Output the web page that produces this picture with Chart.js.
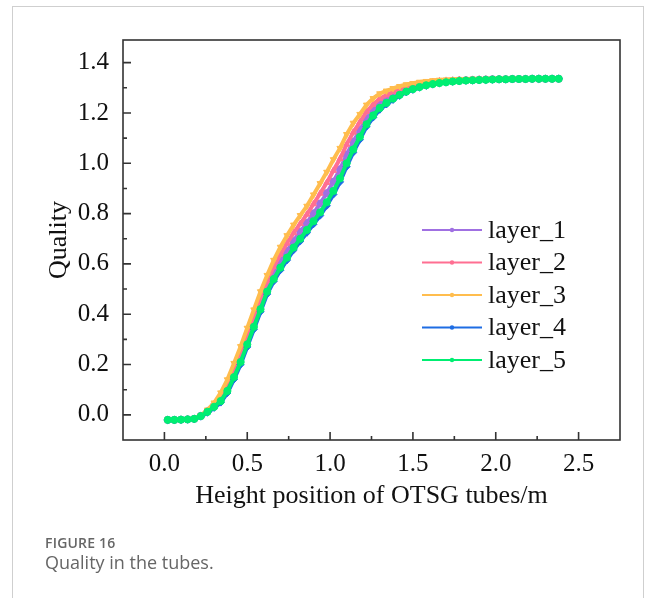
<!DOCTYPE html>
<html>
<head>
<meta charset="utf-8">
<script src="https://cdn.jsdelivr.net/npm/chart.js@4"></script>
<style>
  html, body { margin: 0; padding: 0; background: #fff; }
  body { width: 656px; height: 598px; position: relative; overflow: hidden; }
  #card { position: absolute; left: 12px; top: 6px; width: 632px; height: 620px; border: 1px solid #cfcfcf; box-sizing: border-box; }
  #chart { position: absolute; left: 0; top: 0; }
  .cap { position: absolute; left: 45px; font-family: "Open Sans", "Noto Sans", sans-serif; color: #666; }
  #figno { top: 533px; font-size: 14px; font-weight: 600; letter-spacing: 0.2px; }
  #figtxt { top: 550px; font-size: 18px; }
</style>
</head>
<body>
<div id="card"></div>
<canvas id="chart" width="656" height="598"></canvas>
<div class="cap" id="figno">FIGURE 16</div>
<div class="cap" id="figtxt">Quality in the tubes.</div>
<script>
// height positions (m), shared by all layers
const heights = [0.02, 0.06, 0.10, 0.14, 0.18, 0.22, 0.26, 0.30, 0.34, 0.38,
  0.42, 0.46, 0.50, 0.54, 0.58, 0.62, 0.66, 0.70, 0.74, 0.78,
  0.82, 0.86, 0.90, 0.94, 0.98, 1.02, 1.06, 1.10, 1.14, 1.18,
  1.22, 1.26, 1.30, 1.34, 1.38, 1.42, 1.46, 1.50, 1.54, 1.58,
  1.62, 1.66, 1.70, 1.74, 1.78, 1.82, 1.86, 1.90, 1.94, 1.98,
  2.02, 2.06, 2.10, 2.14, 2.18, 2.22, 2.26, 2.30, 2.34, 2.38];

const layer1 = [-0.020, -0.020, -0.019, -0.018, -0.016, -0.004, 0.014, 0.037, 0.065, 0.108,
  0.166, 0.229, 0.300, 0.370, 0.441, 0.510, 0.562, 0.610, 0.651, 0.692,
  0.728, 0.763, 0.801, 0.840, 0.881, 0.927, 0.976, 1.034, 1.086, 1.132,
  1.178, 1.210, 1.237, 1.254, 1.269, 1.282, 1.293, 1.302, 1.309, 1.315,
  1.319, 1.323, 1.325, 1.327, 1.329, 1.330, 1.331, 1.332, 1.333, 1.334,
  1.334, 1.334, 1.335, 1.335, 1.335, 1.336, 1.336, 1.336, 1.336, 1.336];

const layer2 = [-0.020, -0.020, -0.019, -0.018, -0.016, -0.004, 0.017, 0.042, 0.076, 0.124,
  0.186, 0.250, 0.322, 0.394, 0.465, 0.532, 0.589, 0.638, 0.682, 0.723,
  0.760, 0.797, 0.838, 0.880, 0.923, 0.971, 1.018, 1.075, 1.123, 1.164,
  1.205, 1.234, 1.257, 1.271, 1.284, 1.294, 1.303, 1.310, 1.316, 1.320,
  1.324, 1.327, 1.329, 1.330, 1.332, 1.332, 1.333, 1.334, 1.334, 1.335,
  1.335, 1.335, 1.336, 1.336, 1.336, 1.336, 1.336, 1.336, 1.336, 1.336];

const layer3 = [-0.020, -0.020, -0.019, -0.018, -0.016, -0.003, 0.020, 0.048, 0.088, 0.140,
  0.205, 0.272, 0.345, 0.418, 0.490, 0.555, 0.615, 0.667, 0.713, 0.755,
  0.793, 0.830, 0.875, 0.920, 0.965, 1.015, 1.060, 1.115, 1.160, 1.195,
  1.232, 1.258, 1.277, 1.288, 1.298, 1.306, 1.313, 1.318, 1.323, 1.326,
  1.329, 1.331, 1.332, 1.333, 1.334, 1.334, 1.335, 1.335, 1.335, 1.336,
  1.336, 1.336, 1.336, 1.336, 1.336, 1.336, 1.336, 1.336, 1.336, 1.336];

const layer4 = [-0.021, -0.021, -0.020, -0.019, -0.017, -0.007, 0.009, 0.028, 0.049, 0.087,
  0.141, 0.200, 0.270, 0.340, 0.410, 0.480, 0.531, 0.575, 0.615, 0.655,
  0.690, 0.724, 0.758, 0.792, 0.831, 0.876, 0.926, 0.987, 1.043, 1.094,
  1.146, 1.182, 1.213, 1.234, 1.252, 1.268, 1.282, 1.292, 1.301, 1.308,
  1.313, 1.318, 1.321, 1.324, 1.326, 1.328, 1.329, 1.330, 1.331, 1.332,
  1.333, 1.333, 1.334, 1.334, 1.335, 1.335, 1.335, 1.335, 1.336, 1.336];

const layer5 = [-0.020, -0.020, -0.019, -0.018, -0.016, -0.005, 0.012, 0.032, 0.055, 0.095,
  0.150, 0.210, 0.280, 0.350, 0.420, 0.490, 0.540, 0.585, 0.625, 0.665,
  0.700, 0.735, 0.770, 0.805, 0.845, 0.890, 0.940, 1.000, 1.055, 1.105,
  1.155, 1.190, 1.220, 1.240, 1.257, 1.272, 1.285, 1.295, 1.303, 1.310,
  1.315, 1.319, 1.322, 1.325, 1.327, 1.329, 1.330, 1.331, 1.332, 1.333,
  1.334, 1.334, 1.335, 1.335, 1.335, 1.336, 1.336, 1.336, 1.336, 1.336];

const layerNames = ['layer_1', 'layer_2', 'layer_3', 'layer_4', 'layer_5'];
const layerColors = ['#a070e2', '#ff6f92', '#ffbd4e', '#1e6de3', '#00ee72'];
const layerMarkers = ['circle', 'triangle', 'triangle', 'rectRot', 'circle'];

const xTicks = [0.0, 0.5, 1.0, 1.5, 2.0, 2.5];
const yTicks = [0.0, 0.2, 0.4, 0.6, 0.8, 1.0, 1.2, 1.4];
const xMinor = [0.25, 0.75, 1.25, 1.75, 2.25];
const yMinor = [0.1, 0.3, 0.5, 0.7, 0.9, 1.1, 1.3];

const layers = [layer1, layer2, layer3, layer4, layer5];
const serif = '"Liberation Serif", "Times New Roman", serif';

// frame + ticks pointing into the plot, like the origin-style figure
const frameTicks = {
    id: 'frameTicks',
    afterDraw(chart) {
        const { ctx, chartArea: a, scales } = chart;
        ctx.save();
        ctx.strokeStyle = '#333';
        ctx.lineWidth = 1.6;
        ctx.strokeRect(a.left, a.top, a.right - a.left, a.bottom - a.top);
        ctx.beginPath();
        const tick = (vals, len) => {
            vals.forEach(v => {
                const px = scales.x.getPixelForValue(v);
                ctx.moveTo(px, a.bottom);
                ctx.lineTo(px, a.bottom - len);
            });
        };
        const ytick = (vals, len) => {
            vals.forEach(v => {
                const py = scales.y.getPixelForValue(v);
                ctx.moveTo(a.left, py);
                ctx.lineTo(a.left + len, py);
            });
        };
        tick(xTicks, 8); tick(xMinor, 4);
        ytick(yTicks, 8); ytick(yMinor, 4);
        ctx.stroke();
        ctx.restore();
    }
};

// legend sits inside the plot, right of the curves
const insideLegend = {
    id: 'insideLegend',
    afterDraw(chart) {
        const ctx = chart.ctx;
        ctx.save();
        ctx.font = '26px ' + serif;
        ctx.textBaseline = 'middle';
        chart.data.datasets.forEach((ds, i) => {
            const y = 230 + i * 32.5;
            ctx.strokeStyle = ds.borderColor;
            ctx.lineWidth = 2;
            ctx.beginPath();
            ctx.moveTo(422, y);
            ctx.lineTo(482, y);
            ctx.stroke();
            ctx.fillStyle = ds.borderColor;
            ctx.beginPath();
            ctx.arc(452, y, 2.2, 0, Math.PI * 2);
            ctx.fill();
            ctx.fillStyle = '#111';
            ctx.fillText(ds.label, 488, y + 1);
        });
        ctx.restore();
    }
};

const datasets = layers.map((vals, i) => ({
    label: layerNames[i],
    data: heights.map((h, j) => ({ x: h, y: vals[j] })),
    borderColor: layerColors[i],
    backgroundColor: layerColors[i],
    borderWidth: 4,
    pointStyle: layerMarkers[i],
    rotation: i === 2 ? 180 : 0,
    pointRadius: 3.6,
    pointBorderWidth: 1,
    tension: 0,
    order: 5 - i
}));

new Chart(document.getElementById('chart').getContext('2d'), {
    type: 'scatter',
    data: { datasets: datasets },
    options: {
        responsive: false,
        animation: false,
        devicePixelRatio: 1,
        showLine: true,
        layout: { padding: { left: 40, top: 40, right: 36, bottom: 82 } },
        plugins: { legend: { display: false }, tooltip: { enabled: false } },
        scales: {
            x: {
                type: 'linear',
                min: -0.25,
                max: 2.75,
                afterFit: s => { s.height = 76; },
                afterBuildTicks: s => { s.ticks = xTicks.map(v => ({ value: v })); },
                grid: { display: false, drawTicks: false },
                border: { display: false },
                ticks: {
                    padding: 9,
                    color: '#111',
                    font: { family: serif, size: 25 },
                    callback: v => v.toFixed(1)
                },
                title: {
                    display: true,
                    text: 'Height position of OTSG tubes/m',
                    color: '#111',
                    font: { family: serif, size: 26 },
                    padding: { top: 0, bottom: 4 }
                }
            },
            y: {
                type: 'linear',
                min: -0.1,
                max: 1.49,
                afterFit: s => { s.width = 83; },
                afterBuildTicks: s => { s.ticks = yTicks.map(v => ({ value: v })); },
                grid: { display: false, drawTicks: false },
                border: { display: false },
                ticks: {
                    padding: 14,
                    color: '#111',
                    font: { family: serif, size: 25 },
                    callback: v => v.toFixed(1)
                },
                title: {
                    display: true,
                    text: 'Quality',
                    color: '#111',
                    font: { family: serif, size: 26 },
                    padding: { top: 4, bottom: 0 }
                }
            }
        }
    },
    plugins: [frameTicks, insideLegend]
});
</script>
</body>
</html>
